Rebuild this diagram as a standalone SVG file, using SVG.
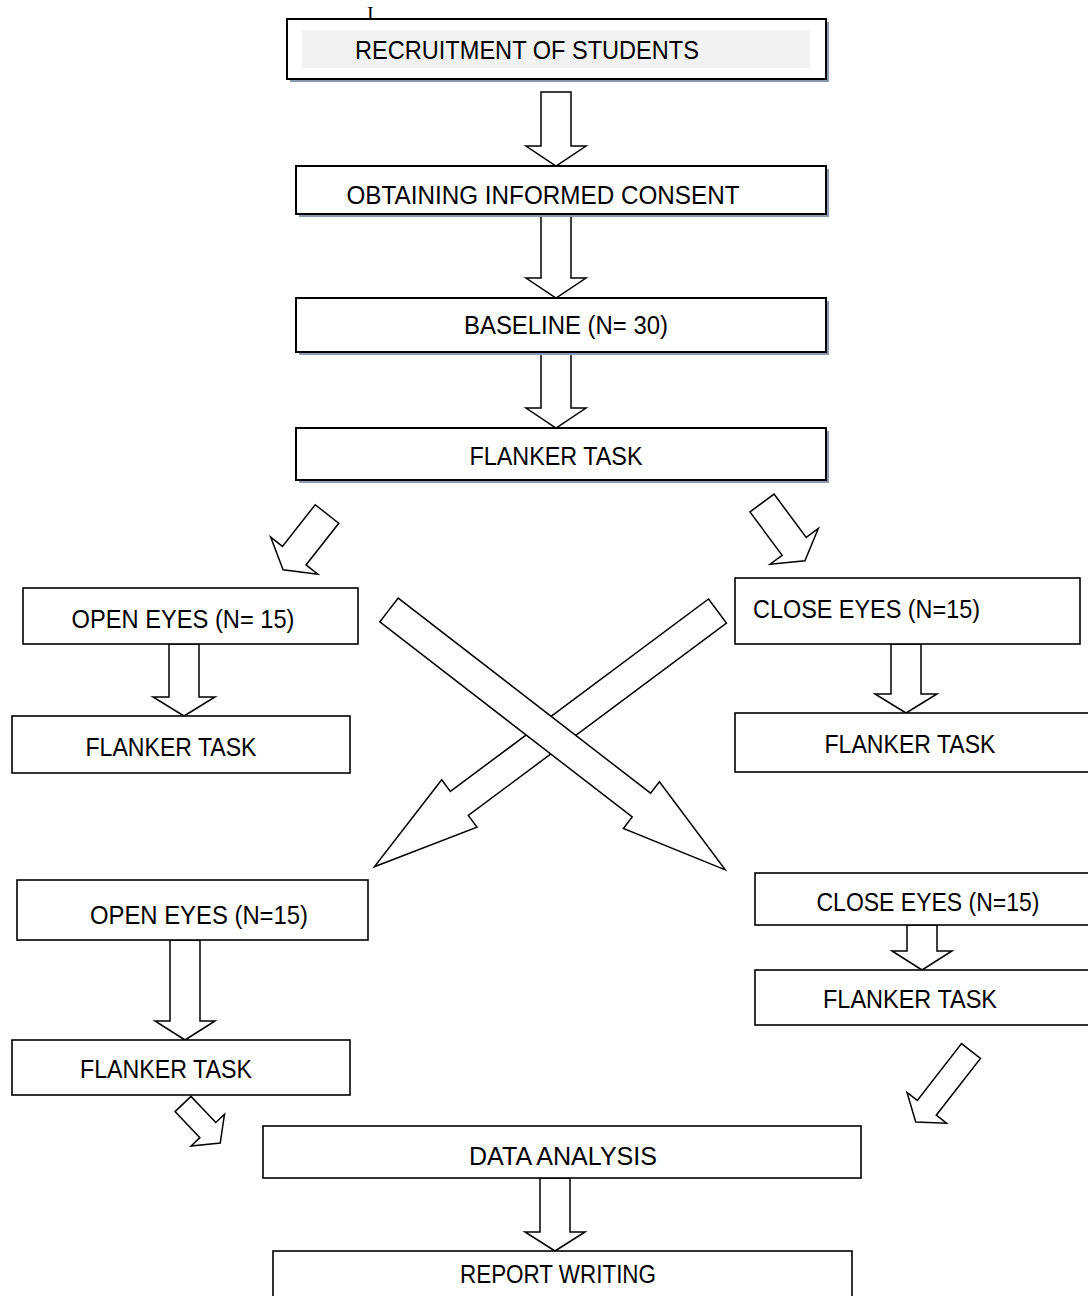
<svg xmlns="http://www.w3.org/2000/svg" width="1088" height="1296" viewBox="0 0 1088 1296">
<style>
.bg{fill:#ffffff}
.box{fill:#ffffff;stroke:#000000;stroke-width:1.6}
.boxs{fill:#ffffff;stroke:#000000;stroke-width:2}
.shadow{fill:#8a9ab0}
.arrow{fill:#ffffff;stroke:#000000;stroke-width:1.5;stroke-linejoin:miter}
.t{font-family:"Liberation Sans",Arial,sans-serif;font-size:26px;fill:#000000;text-anchor:middle}
.ts{font-family:"Liberation Sans",Arial,sans-serif;font-size:26px;fill:#000000;text-anchor:start}
.cursor{font-family:"Liberation Serif","Times New Roman",serif;font-size:20px;fill:#000000}
</style>
<rect class="bg" x="0" y="0" width="1088" height="1296"/>
<text class="cursor" x="367" y="21">I</text>
<g id="connectors">
  <path class="arrow" transform="translate(556 92)" d="M-15 0H15V54H30L0 74L-30 54H-15Z"/>
  <path class="arrow" transform="translate(556 213)" d="M-15 0H15V65H30L0 85L-30 65H-15Z"/>
  <path class="arrow" transform="translate(556 352)" d="M-15 0H15V56H30L0 76L-30 56H-15Z"/>
  <path class="arrow" transform="translate(327 514) rotate(38.2)" d="M-15 0H15V53H30L0 71L-30 53H-15Z"/>
  <path class="arrow" transform="translate(762 503) rotate(-36.6)" d="M-15 0H15V54H30L0 72L-30 54H-15Z"/>
  <path class="arrow" transform="translate(184 644)" d="M-15 0H15V53H31L0 72L-31 53H-15Z"/>
  <path class="arrow" transform="translate(906 644)" d="M-15 0H15V50H31L0 69L-31 50H-15Z"/>
  <path class="arrow" transform="translate(717.5 611) rotate(53.3)" d="M-15 0H15V322H29.5L0 428L-29.5 322H-15Z"/>
  <path class="arrow" transform="translate(389 610) rotate(-52.3)" d="M-15 0H15V319H29.5L0 425L-29.5 319H-15Z"/>
  <path class="arrow" transform="translate(185 940)" d="M-15 0H15V81H30L0 100L-30 81H-15Z"/>
  <path class="arrow" transform="translate(922 925)" d="M-15 0H15V26H30L0 45L-30 26H-15Z"/>
  <path class="arrow" transform="translate(183 1104) rotate(-43.6)" d="M-11 0H11V36H23L0 54L-23 36H-11Z"/>
  <path class="arrow" transform="translate(971 1051) rotate(37.9)" d="M-12 0H12V72H25L0 90L-25 72H-12Z"/>
  <path class="arrow" transform="translate(555 1178)" d="M-15 0H15V54H30L0 73L-30 54H-15Z"/>
</g>
<g id="n-recruitment">
  <rect class="shadow" x="290" y="22" width="539" height="60"/>
  <rect class="boxs" x="287" y="19" width="539" height="60"/>
  <rect x="302" y="30" width="508" height="38" fill="#f2f2f2"/>
  <text class="t" x="527" y="59" textLength="344" lengthAdjust="spacingAndGlyphs">RECRUITMENT OF STUDENTS</text>
</g>
<g id="n-consent">
  <rect class="shadow" x="299" y="169" width="530" height="48"/>
  <rect class="boxs" x="296" y="166" width="530" height="48"/>
  <text class="t" x="543" y="204" textLength="393" lengthAdjust="spacingAndGlyphs">OBTAINING INFORMED CONSENT</text>
</g>
<g id="n-baseline">
  <rect class="shadow" x="299" y="301" width="530" height="54"/>
  <rect class="boxs" x="296" y="298" width="530" height="54"/>
  <text class="t" x="566" y="334" textLength="204" lengthAdjust="spacingAndGlyphs">BASELINE (N= 30)</text>
</g>
<g id="n-flanker-1">
  <rect class="shadow" x="299" y="431" width="530" height="52"/>
  <rect class="boxs" x="296" y="428" width="530" height="52"/>
  <text class="t" x="556" y="465" textLength="173" lengthAdjust="spacingAndGlyphs">FLANKER TASK</text>
</g>
<g id="n-open-eyes-1">
  <rect class="box" x="23" y="588" width="335" height="56"/>
  <text class="t" x="183" y="628" textLength="223" lengthAdjust="spacingAndGlyphs">OPEN EYES (N= 15)</text>
</g>
<g id="n-flanker-l1">
  <rect class="box" x="12" y="716" width="338" height="57"/>
  <text class="t" x="171" y="756" textLength="171" lengthAdjust="spacingAndGlyphs">FLANKER TASK</text>
</g>
<g id="n-close-eyes-1">
  <rect class="box" x="735" y="578" width="345" height="66"/>
  <text class="ts" x="753" y="618" textLength="227" lengthAdjust="spacingAndGlyphs">CLOSE EYES (N=15)</text>
</g>
<g id="n-flanker-r1">
  <rect class="box" x="735" y="713" width="360" height="59"/>
  <text class="t" x="910" y="753" textLength="171" lengthAdjust="spacingAndGlyphs">FLANKER TASK</text>
</g>
<g id="n-open-eyes-2">
  <rect class="box" x="17" y="880" width="351" height="60"/>
  <text class="t" x="199" y="924" textLength="218" lengthAdjust="spacingAndGlyphs">OPEN EYES (N=15)</text>
</g>
<g id="n-flanker-l2">
  <rect class="box" x="12" y="1040" width="338" height="55"/>
  <text class="t" x="166" y="1078" textLength="172" lengthAdjust="spacingAndGlyphs">FLANKER TASK</text>
</g>
<g id="n-close-eyes-2">
  <rect class="box" x="755" y="873" width="340" height="52"/>
  <text class="t" x="928" y="911" textLength="223" lengthAdjust="spacingAndGlyphs">CLOSE EYES (N=15)</text>
</g>
<g id="n-flanker-r2">
  <rect class="box" x="755" y="970" width="340" height="55"/>
  <text class="t" x="910" y="1008" textLength="174" lengthAdjust="spacingAndGlyphs">FLANKER TASK</text>
</g>
<g id="n-data-analysis">
  <rect class="box" x="263" y="1126" width="598" height="52"/>
  <text class="t" x="563" y="1165" textLength="188" lengthAdjust="spacingAndGlyphs">DATA ANALYSIS</text>
</g>
<g id="n-report-writing">
  <rect class="box" x="273" y="1251" width="579" height="60"/>
  <text class="t" x="558" y="1283" textLength="196" lengthAdjust="spacingAndGlyphs">REPORT WRITING</text>
</g>
</svg>
